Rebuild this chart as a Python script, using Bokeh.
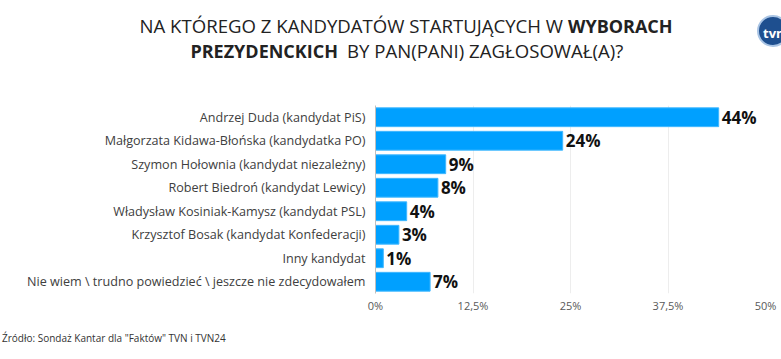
from bokeh.plotting import figure
from bokeh.layouts import column
from bokeh.models import FactorRange, FixedTicker, Div
from bokeh.core.properties import value
from bokeh.embed import file_html
from bokeh.resources import INLINE

categories = [
    "Andrzej Duda (kandydat PiS)",
    "Małgorzata Kidawa-Błońska (kandydatka PO)",
    "Szymon Hołownia (kandydat niezależny)",
    "Robert Biedroń (kandydat Lewicy)",
    "Władysław Kosiniak-Kamysz (kandydat PSL)",
    "Krzysztof Bosak (kandydat Konfederacji)",
    "Inny kandydat",
    "Nie wiem \\ trudno powiedzieć \\ jeszcze nie zdecydowałem",
]
values = [44, 24, 9, 8, 4, 3, 1, 7]
value_labels = ["44%", "24%", "9%", "8%", "4%", "3%", "1%", "7%"]
tick_values = [0, 12.5, 25, 37.5, 50]
tick_labels = ["0%", "12,5%", "25%", "37,5%", "50%"]

title_l1_normal = "NA KTÓREGO Z KANDYDATÓW STARTUJĄCYCH W"
title_l1_bold = "WYBORACH"
title_l2_bold = "PREZYDENCKICH"
title_l2_normal = "BY PAN(PANI) ZAGŁOSOWAŁ(A)?"
source_text = 'Źródło: Sondaż Kantar dla "Faktów" TVN i TVN24'
logo_text = "tvn"

FONT = "Open Sans"
W = 781
TITLE_H, FOOT_H = 70, 30
MAIN_H = 359 - TITLE_H - FOOT_H

# ---- title block (HTML text) ----
span = ("position:absolute;white-space:nowrap;font-family:'Open Sans';"
        "line-height:18px;color:#222222;")
title_html = (
    f'<div style="position:relative;width:{W}px;height:{TITLE_H}px;overflow:hidden;background:white;">'
    f'<span style="{span}font-size:18.6px;right:{W-563}px;top:17px;">{title_l1_normal}</span>'
    f'<span style="{span}font-size:18px;left:568px;top:17px;font-weight:bold;">{title_l1_bold}</span>'
    f'<span style="{span}font-size:18px;right:{W-338}px;top:42px;font-weight:bold;">{title_l2_bold}</span>'
    f'<span style="{span}font-size:18.6px;left:347px;top:42px;">{title_l2_normal}</span>'
    '<span style="position:absolute;left:757px;top:15px;width:32px;height:32px;'
    'border-radius:50%;background:#1E4F8F;border:2px solid #A9C4E4;color:white;'
    "font-family:'Open Sans';font-weight:bold;font-size:13px;line-height:32px;"
    f'padding-left:4px;">{logo_text}</span>'
    '</div>'
)
title_div = Div(text=title_html, width=W, height=TITLE_H, margin=0)

# ---- main chart ----
p = figure(
    width=W, height=MAIN_H,
    y_range=FactorRange(factors=categories[::-1]),
    x_range=(0, 50),
    output_backend="svg", toolbar_location=None,
    min_border_left=375, min_border_right=16,
    min_border_top=35, min_border_bottom=MAIN_H - 35 - 188,
    margin=0,
)
p.background_fill_color = "white"
p.outline_line_color = None

p.hbar(y=categories, right=values, height=0.8,
       fill_color="#00A0FF", line_color="#40B8FF", line_width=1)

p.text(x=values, y=categories, text=value_labels, x_offset=3,
       text_baseline="middle", text_align="left",
       text_font=value(FONT), text_font_style="bold",
       text_font_size="17px", text_color="#111111")

p.xaxis.ticker = FixedTicker(ticks=tick_values)
p.xaxis.major_label_overrides = {t: l for t, l in zip(tick_values, tick_labels)}
p.xaxis.axis_line_color = None
p.xaxis.major_tick_line_color = None
p.xaxis.minor_tick_line_color = None
p.xaxis.major_tick_out = 0
p.xaxis.major_tick_in = 0
p.xaxis.major_label_text_font = FONT
p.xaxis.major_label_text_font_size = "11px"
p.xaxis.major_label_text_color = "#595959"
p.xaxis.major_label_standoff = 4

p.yaxis.axis_line_color = "#BFBFBF"
p.yaxis.major_tick_line_color = None
p.yaxis.minor_tick_line_color = None
p.yaxis.major_tick_out = 0
p.yaxis.major_tick_in = 0
p.yaxis.major_label_text_font = FONT
p.yaxis.major_label_text_font_size = "12.6px"
p.yaxis.major_label_text_color = "#404040"
p.yaxis.major_label_standoff = 10

p.ygrid.grid_line_color = None
p.xgrid.ticker = FixedTicker(ticks=tick_values)
p.xgrid.grid_line_color = "#EDEDED"

# ---- footer (HTML text) ----
foot_html = (
    f'<div style="position:relative;width:{W}px;height:{FOOT_H}px;overflow:hidden;background:white;">'
    "<span style=\"position:absolute;left:2px;top:4px;white-space:nowrap;"
    "font-family:'Open Sans';font-size:10px;line-height:10px;color:#333333;\">"
    f'{source_text}</span></div>'
)
foot_div = Div(text=foot_html, width=W, height=FOOT_H, margin=0)

layout = column(title_div, p, foot_div, spacing=0, margin=0)
open("out.html", "w").write(file_html(layout, INLINE))
